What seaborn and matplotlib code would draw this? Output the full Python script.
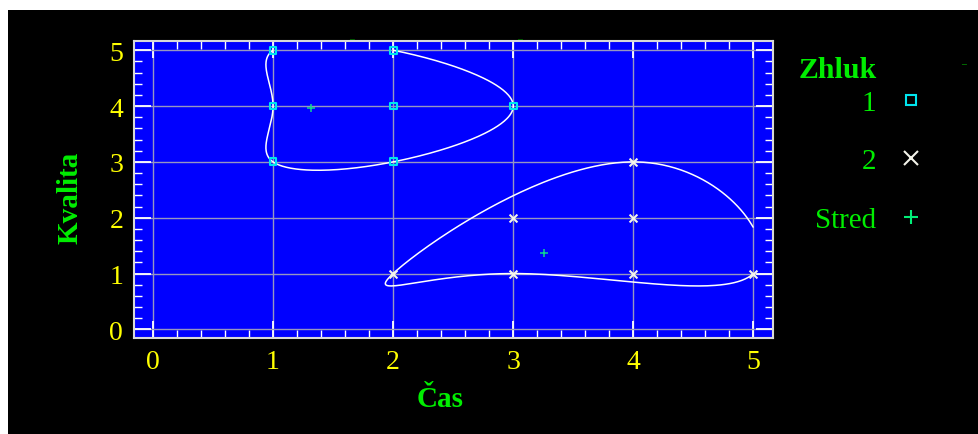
import numpy as np
import pandas as pd
import seaborn as sns
import matplotlib
matplotlib.use("Agg")
from matplotlib import pyplot as plt
from matplotlib.lines import Line2D
from matplotlib.patches import Rectangle
from matplotlib.ticker import MultipleLocator

# cluster members (Čas, Kvalita)
c1_x = [1, 1, 1, 2, 2, 2, 3]
c1_y = [5, 4, 3, 5, 4, 3, 4]
c2_x = [2, 3, 3, 4, 4, 4, 5]
c2_y = [1, 2, 1, 3, 2, 1, 1]
# cluster centres
center_x = [1.32, 3.26]
center_y = [3.96, 1.36]
# outline points of each cluster (closed spline goes through them)
hull1_x = [1, 2, 3, 2, 1, 1]
hull1_y = [5, 5, 4, 3, 3, 4]
hull2_x = [2, 4, 5, 3]
hull2_y = [1, 3, 1, 1]
legend_labels = ["1", "2", "Stred"]

GREEN = "#00ee00"
YELLOW = "#ffff00"
CYAN = "#00e5ee"


def closed_spline(xs, ys, n=80):
    # periodic cubic spline, uniform parameter, clipped to the data range
    pts = np.column_stack([xs, ys]).astype(float)
    k = len(pts)
    A = np.zeros((k, k))
    for i in range(k):
        A[i, i] = 4
        A[i, (i - 1) % k] = 1
        A[i, (i + 1) % k] = 1
    rhs = 3 * (np.roll(pts, -1, axis=0) - np.roll(pts, 1, axis=0))
    m = np.linalg.solve(A, rhs)
    t = np.linspace(0, 1, n)[:, None]
    h00 = 2 * t**3 - 3 * t**2 + 1
    h10 = t**3 - 2 * t**2 + t
    h01 = -2 * t**3 + 3 * t**2
    h11 = t**3 - t**2
    segs = []
    for i in range(k):
        j = (i + 1) % k
        segs.append(h00 * pts[i] + h10 * m[i] + h01 * pts[j] + h11 * m[j])
    c = np.vstack(segs)
    bad = (c[:, 0] > 5.0) | (c[:, 1] > 5.0) | (c[:, 0] < 0) | (c[:, 1] < 0)
    c[bad] = np.nan
    return c


sns.set_style("ticks")
plt.rcParams["font.family"] = ["Liberation Serif", "DejaVu Serif"]

fig = plt.figure(figsize=(9.79, 4.35), dpi=100)
fig.patch.set_facecolor("white")
fig.patches.append(Rectangle((8 / 979, 0), 1, 424 / 435, transform=fig.transFigure,
                             facecolor="black", edgecolor="none", zorder=-10))

ax = fig.add_axes([134.3 / 979, 1 - 339.3 / 435, (772.7 - 134.3) / 979, (339.3 - 42.3) / 435])
ax.set_facecolor("#0000ff")

for hx, hy in [(hull1_x, hull1_y), (hull2_x, hull2_y)]:
    cur = closed_spline(hx, hy)
    ax.plot(cur[:, 0], cur[:, 1], color="white", lw=1.1, zorder=4)

df1 = pd.DataFrame({"Čas": c1_x, "Kvalita": c1_y})
df2 = pd.DataFrame({"Čas": c2_x, "Kvalita": c2_y})
dfc = pd.DataFrame({"Čas": center_x, "Kvalita": center_y})
sns.scatterplot(data=df1, x="Čas", y="Kvalita", marker="s", s=24, facecolor="none",
                edgecolor=CYAN, linewidth=1.5, ax=ax, zorder=5, legend=False)
sns.scatterplot(data=df2, x="Čas", y="Kvalita", marker="x", s=32, color="#f4f4ea",
                linewidth=1.5, ax=ax, zorder=5, legend=False)
sns.scatterplot(data=dfc, x="Čas", y="Kvalita", marker="+", s=32, color="#10d890",
                linewidth=1.1, ax=ax, zorder=5, legend=False)

ax.set_xlim(-0.155, 5.16)
ax.set_ylim(-0.16, 5.16)
ax.xaxis.set_major_locator(MultipleLocator(1))
ax.yaxis.set_major_locator(MultipleLocator(1))
ax.xaxis.set_minor_locator(MultipleLocator(0.2))
ax.yaxis.set_minor_locator(MultipleLocator(0.2))
ax.grid(True, which="major", color="#9696c0", lw=1)
ax.set_axisbelow(True)
ax.tick_params(which="both", direction="in", top=True, right=True, colors="white",
               labelcolor=YELLOW, labelsize=20)
ax.tick_params(which="major", length=12, width=1.3, pad=8)
ax.tick_params(which="minor", length=6, width=1)
for s in ax.spines.values():
    s.set_color("#d8d8d8")
    s.set_linewidth(1.5)

ax.set_xlabel("Čas", fontsize=21, fontweight="bold", color=GREEN)
ax.set_ylabel("Kvalita", fontsize=21, fontweight="bold", color=GREEN)
ax.xaxis.label.set_va("center")
ax.yaxis.label.set_va("center")
ax.xaxis.set_label_coords(0.479, -0.204)
ax.yaxis.set_label_coords(-0.1007, 0.476)

handles = [
    Line2D([], [], marker="s", ls="none", markerfacecolor="none", markeredgecolor=CYAN,
           markersize=7.5, markeredgewidth=1.5),
    Line2D([], [], marker="x", ls="none", color="#f4f4ea", markersize=9.5, markeredgewidth=1.5),
    Line2D([], [], marker="+", ls="none", color="#00ee77", markersize=9.5, markeredgewidth=1.5),
]
ax.legend(handles, legend_labels, loc="upper right", bbox_to_anchor=(925.3 / 979, 1 - 90.5 / 435),
          bbox_transform=fig.transFigure, frameon=False, markerfirst=False,
          handlelength=1.0, handletextpad=0.69, labelspacing=1.1, borderpad=0,
          borderaxespad=0, prop={"size": 21}, labelcolor=GREEN)
fig.text(799 / 979, 1 - 77.7 / 435, "Zhluk", fontsize=21.5, fontweight="bold", color=GREEN,
         ha="left", va="baseline")

# small stray marks along the top and right
for mx, my, mc in [(352, 40, "#00a000"), (520, 40, "#00a000"), (964, 65, "#00c000")]:
    fig.text(mx / 979, 1 - my / 435, "–", fontsize=7, color=mc, ha="center", va="center",
             zorder=10)

fig.savefig("out.png", dpi=100, facecolor=fig.get_facecolor())
